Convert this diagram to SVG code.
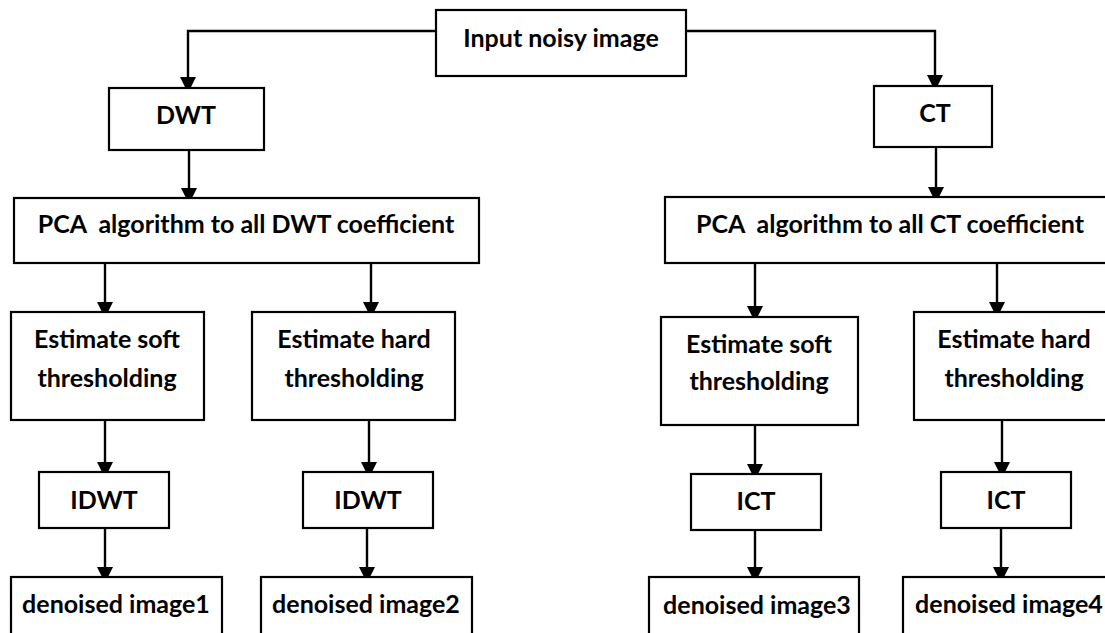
<svg xmlns="http://www.w3.org/2000/svg" width="1105" height="633" viewBox="0 0 1105 633">
  <style>
    .box { fill: #ffffff; stroke: #000000; stroke-width: 2.2; }
    .lbl { font-family: "Lato", "Open Sans", "Liberation Sans", sans-serif; font-weight: bold; font-size: 25px; fill: #000000; text-anchor: middle; }
    .wire { fill: none; stroke: #000000; stroke-width: 2.4; }
  </style>
  <defs>
    <marker id="head" markerUnits="userSpaceOnUse" markerWidth="18" markerHeight="18" refX="16" refY="8" orient="auto">
      <path d="M0,0 L16,8 L0,16 Z" fill="#000000"/>
    </marker>
  </defs>
  <rect width="1105" height="633" fill="#ffffff"/>

  <!-- flow connectors -->
  <g id="connectors">
    <path class="wire" d="M436,31 H188 V93" marker-end="url(#head)"/>
    <path class="wire" d="M686,31 H935 V91" marker-end="url(#head)"/>
    <path class="wire" d="M189,150 V204" marker-end="url(#head)"/>
    <path class="wire" d="M936,147 V203" marker-end="url(#head)"/>
    <path class="wire" d="M105,263 V318" marker-end="url(#head)"/>
    <path class="wire" d="M371,263 V318" marker-end="url(#head)"/>
    <path class="wire" d="M755,263 V322" marker-end="url(#head)"/>
    <path class="wire" d="M997,263 V318" marker-end="url(#head)"/>
    <path class="wire" d="M105,420 V478" marker-end="url(#head)"/>
    <path class="wire" d="M369,420 V478" marker-end="url(#head)"/>
    <path class="wire" d="M755,425 V480" marker-end="url(#head)"/>
    <path class="wire" d="M1002,420 V478" marker-end="url(#head)"/>
    <path class="wire" d="M105,528 V583" marker-end="url(#head)"/>
    <path class="wire" d="M367,528 V583" marker-end="url(#head)"/>
    <path class="wire" d="M755,530 V583" marker-end="url(#head)"/>
    <path class="wire" d="M1001,528 V583" marker-end="url(#head)"/>
  </g>

  <g id="input">
    <rect class="box" x="436" y="10" width="250" height="66"/>
    <text class="lbl" x="561" y="47">Input noisy image</text>
  </g>

  <g id="dwt">
    <rect class="box" x="109" y="88" width="155" height="62"/>
    <text class="lbl" x="186" y="124">DWT</text>
  </g>
  <g id="ct">
    <rect class="box" x="874" y="86" width="118" height="61"/>
    <text class="lbl" x="935" y="122">CT</text>
  </g>

  <g id="pca-dwt">
    <rect class="box" x="14" y="198" width="465" height="65"/>
    <text class="lbl" x="246" y="233" xml:space="preserve">PCA  algorithm to all DWT coefficient</text>
  </g>
  <g id="pca-ct">
    <rect class="box" x="665" y="197" width="460" height="66"/>
    <text class="lbl" x="890" y="233" xml:space="preserve">PCA  algorithm to all CT coefficient</text>
  </g>

  <g id="soft-dwt">
    <rect class="box" x="11" y="312" width="193" height="108"/>
    <text class="lbl" x="107" y="348">Estimate soft</text>
    <text class="lbl" x="107" y="387">thresholding</text>
  </g>
  <g id="hard-dwt">
    <rect class="box" x="252" y="312" width="203" height="108"/>
    <text class="lbl" x="354" y="348">Estimate hard</text>
    <text class="lbl" x="354" y="387">thresholding</text>
  </g>
  <g id="soft-ct">
    <rect class="box" x="661" y="317" width="197" height="108"/>
    <text class="lbl" x="759" y="353">Estimate soft</text>
    <text class="lbl" x="759" y="390">thresholding</text>
  </g>
  <g id="hard-ct">
    <rect class="box" x="914" y="312" width="210" height="108"/>
    <text class="lbl" x="1014" y="348">Estimate hard</text>
    <text class="lbl" x="1014" y="387">thresholding</text>
  </g>

  <g id="idwt-soft">
    <rect class="box" x="39" y="472" width="130" height="56"/>
    <text class="lbl" x="104" y="509">IDWT</text>
  </g>
  <g id="idwt-hard">
    <rect class="box" x="303" y="472" width="130" height="56"/>
    <text class="lbl" x="368" y="509">IDWT</text>
  </g>
  <g id="ict-soft">
    <rect class="box" x="691" y="474" width="130" height="56"/>
    <text class="lbl" x="756" y="510">ICT</text>
  </g>
  <g id="ict-hard">
    <rect class="box" x="941" y="472" width="130" height="56"/>
    <text class="lbl" x="1006" y="509">ICT</text>
  </g>

  <g id="out1">
    <rect class="box" x="11" y="577" width="211" height="80"/>
    <text class="lbl" x="116" y="613">denoised image1</text>
  </g>
  <g id="out2">
    <rect class="box" x="261" y="577" width="211" height="80"/>
    <text class="lbl" x="366" y="613">denoised image2</text>
  </g>
  <g id="out3">
    <rect class="box" x="649" y="577" width="210" height="80"/>
    <text class="lbl" x="757" y="614">denoised image3</text>
  </g>
  <g id="out4">
    <rect class="box" x="903" y="577" width="215" height="80"/>
    <text class="lbl" x="1009" y="613">denoised image4</text>
  </g>
</svg>
